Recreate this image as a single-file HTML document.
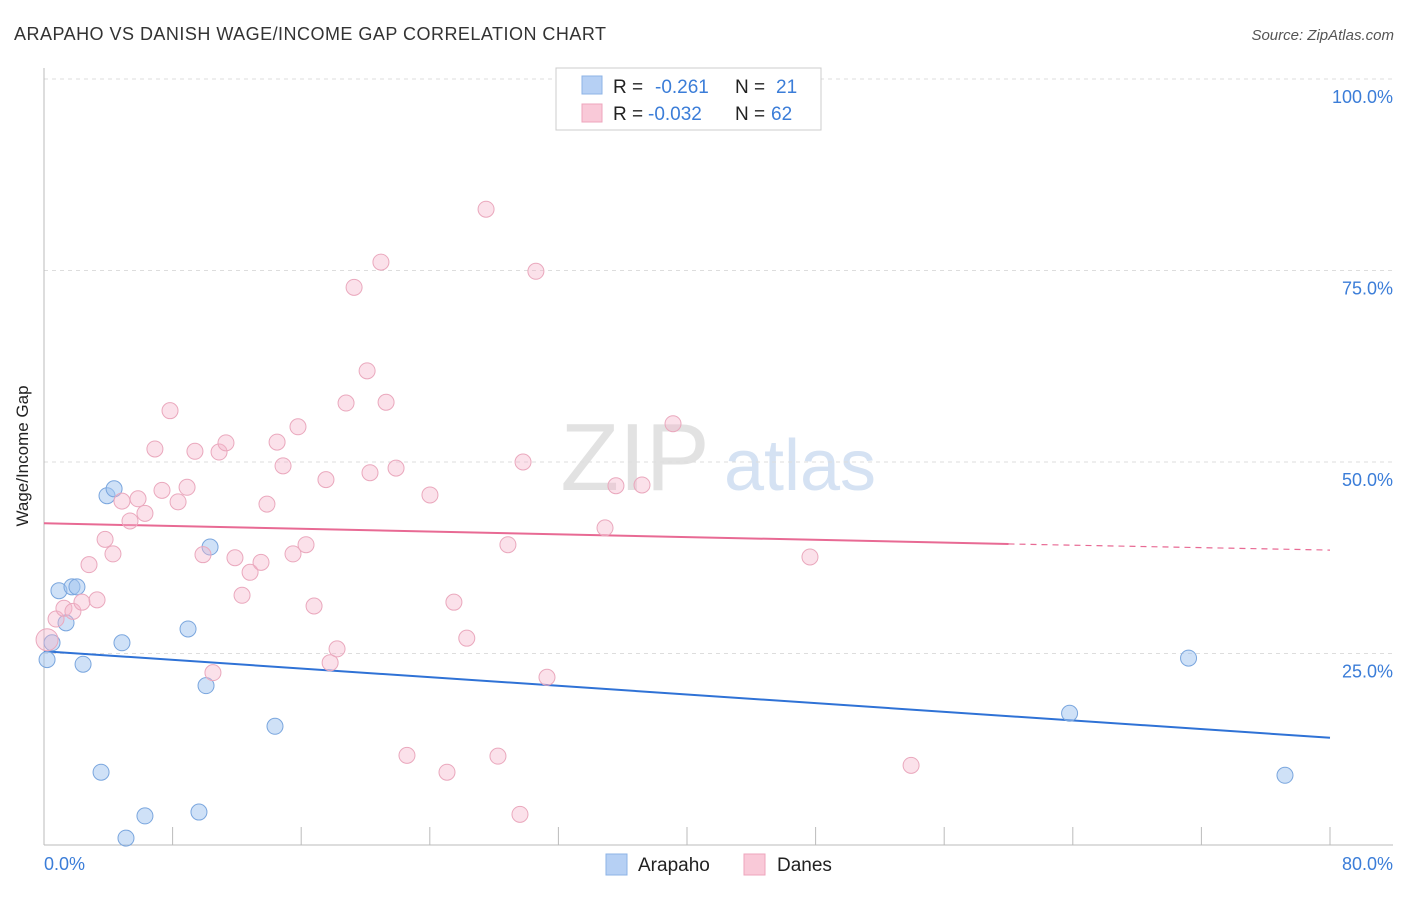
<!DOCTYPE html>
<html><head><meta charset="utf-8"><style>
body{margin:0;background:#fff;font-family:"Liberation Sans",sans-serif;}
svg text{font-family:"Liberation Sans",sans-serif;}
</style></head><body>
<svg id="chart" width="1406" height="892">
<text x="14" y="40" font-size="18" fill="#333" textLength="592">ARAPAHO VS DANISH WAGE/INCOME GAP CORRELATION CHART</text>
<text x="1394" y="40" font-size="15" fill="#555" font-style="italic" text-anchor="end">Source: ZipAtlas.com</text>
<text x="28" y="456" font-size="17" fill="#222" text-anchor="middle" transform="rotate(-90 28 456)">Wage/Income Gap</text>
<g><text x="635" y="490" font-size="96" fill="#e2e2e2" font-family="Liberation Serif" text-anchor="middle">ZIP</text><text x="800" y="490" font-size="72" fill="#d5e2f3" text-anchor="middle">atlas</text></g>
<g id="grid"></g><g id="axes"></g><g id="lines"></g><g id="pts"></g>
<g>
<rect x="556" y="68" width="265" height="62" fill="#fff" stroke="#ccc"/>
<rect x="582" y="76" width="20" height="18" fill="#b6d0f4" stroke="#8db3e6"/>
<rect x="582" y="104" width="20" height="18" fill="#f9c9d8" stroke="#eea5bc"/>
<text y="93" font-size="19" fill="#222"><tspan x="613">R =</tspan><tspan x="655" fill="#3b7dd8">-0.261</tspan><tspan x="735">N =</tspan><tspan x="776" fill="#3b7dd8">21</tspan></text>
<text y="120" font-size="19" fill="#222"><tspan x="613">R =</tspan><tspan x="648" fill="#3b7dd8">-0.032</tspan><tspan x="735">N =</tspan><tspan x="771" fill="#3b7dd8">62</tspan></text>
</g>
<g>
<rect x="606" y="854" width="21" height="21" fill="#b6d0f4" stroke="#8db3e6"/><text x="638" y="871" font-size="19" fill="#222">Arapaho</text>
<rect x="744" y="854" width="21" height="21" fill="#f9c9d8" stroke="#eea5bc"/><text x="777" y="871" font-size="19" fill="#222">Danes</text>
</g>
</svg>
<script>
const yTicks=[25,50,75,100];
const yTickLabels=["25.0%","50.0%","75.0%","100.0%"];
const xTickLabels=["0.0%","80.0%"];
const arapahoX=[0.19,0.5,0.93,1.37,1.74,2.05,2.43,3.92,4.36,3.55,4.85,6.28,5.1,8.96,9.64,10.08,10.33,14.37,63.8,71.2,77.2];
const arapahoY=[24.2,26.4,33.2,29.0,33.7,33.7,23.6,45.6,46.5,9.5,26.4,3.8,0.9,28.2,4.3,20.8,38.9,15.5,17.2,24.4,9.1];
const danesX=[0.19,0.75,1.24,1.8,2.36,2.8,3.3,3.8,4.29,4.85,5.35,5.85,6.28,6.9,7.34,7.84,8.34,8.9,9.39,9.89,10.51,10.89,11.32,11.88,12.32,12.82,13.5,13.87,14.5,14.87,15.49,15.8,16.3,16.8,17.54,17.8,18.23,18.79,19.29,20.1,20.28,20.96,21.28,21.9,22.58,24.01,25.07,25.5,26.3,27.5,28.24,28.86,29.61,29.8,30.6,31.29,34.9,35.58,37.2,39.13,47.65,53.94];
const danesY=[26.8,29.5,30.9,30.5,31.7,36.6,32.0,39.9,38.0,44.9,42.3,45.2,43.3,51.7,46.3,56.7,44.8,46.7,51.4,37.9,22.5,51.3,52.5,37.5,32.6,35.6,36.9,44.5,52.6,49.5,38.0,54.6,39.2,31.2,47.7,23.8,25.6,57.7,72.8,61.9,48.6,76.1,57.8,49.2,11.7,45.7,9.5,31.7,27.0,83.0,11.6,39.2,4.0,50.0,74.9,21.9,41.4,46.9,47.0,55.0,37.6,10.4];
const arapahoTrend=[25.3,14.0];
const danesTrend=[42.0,39.3,38.5];
const danesTrendX=[0,60,80];
const NS="http://www.w3.org/2000/svg";
const sx=v=>44+v/80*1286, sy=v=>845-v/100*766;
function mk(p,t,a){const e=document.createElementNS(NS,t);for(const k in a)e.setAttribute(k,a[k]);document.getElementById(p).appendChild(e);return e;}
yTicks.forEach((t,i)=>{
 const g=mk('grid','line',{x1:44,x2:1393,y1:sy(t),y2:sy(t),stroke:'#ddd','stroke-dasharray':'4,4'});
 
 
 const l=mk('axes','text',{x:1393,y:sy(t)+24,'font-size':18,fill:'#3b7dd8','text-anchor':'end'});l.textContent=yTickLabels[i];
 
 
});
const ax=mk('axes','line',{x1:44,x2:44,y1:68,y2:845,stroke:'#bbb'});


const bx=mk('axes','line',{x1:44,x2:1393,y1:845,y2:845,stroke:'#bbb'});


for(let i=0;i<=10;i++){const t=mk('axes','line',{x1:sx(i*8),x2:sx(i*8),y1:827,y2:845,stroke:'#bbb'});
 
 }
[[0,'start',44],[80,'end',1393]].forEach((d,i)=>{const l=mk('axes','text',{x:d[2],y:870,'font-size':18,fill:'#3b7dd8','text-anchor':d[1]});l.textContent=xTickLabels[i];
 
 });
arapahoX.forEach((x,i)=>{const c=mk('pts','circle',{cx:sx(x),cy:sy(arapahoY[i]),r:8,fill:'rgba(160,195,240,0.5)',stroke:'#7aa6de','stroke-width':1});
 
 });
danesX.forEach((x,i)=>{const c=mk('pts','circle',{cx:sx(x),cy:sy(danesY[i]),r:i==0?11:8,fill:'rgba(246,180,202,0.4)',stroke:'#eaa8bd','stroke-width':1});
 
 });
const bl=mk('lines','line',{x1:sx(0),y1:sy(arapahoTrend[0]),x2:sx(80),y2:sy(arapahoTrend[1]),stroke:'#2f72d6','stroke-width':2});


const pl=mk('lines','line',{x1:sx(danesTrendX[0]),y1:sy(danesTrend[0]),x2:sx(danesTrendX[1]),y2:sy(danesTrend[1]),stroke:'#e86a94','stroke-width':2});


const pd=mk('lines','line',{x1:sx(danesTrendX[1]),y1:sy(danesTrend[1]),x2:sx(danesTrendX[2]),y2:sy(danesTrend[2]),stroke:'#e86a94','stroke-width':1.2,'stroke-dasharray':'6,5'});


</script>
</body></html>
